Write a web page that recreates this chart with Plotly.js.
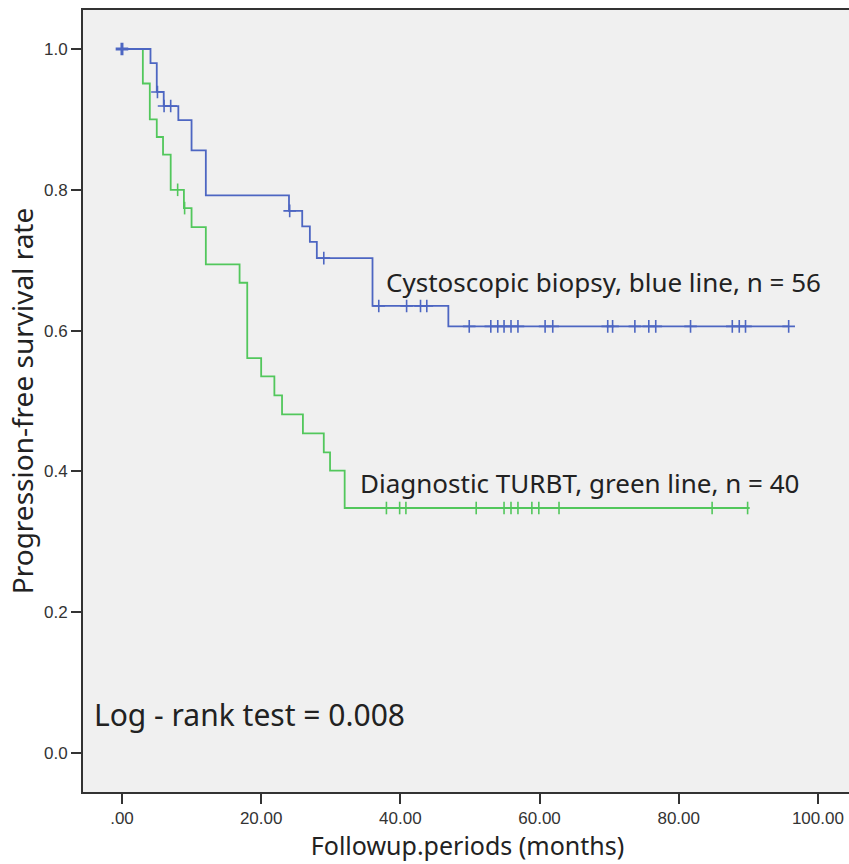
<!DOCTYPE html>
<html>
<head>
<meta charset="utf-8">
<script src="https://cdn.plot.ly/plotly-3.0.1.min.js"></script>
<style>html,body{margin:0;padding:0;overflow:hidden;background:#fff;}</style>
</head>
<body>
<div id="chart"></div>
<script>
// Cystoscopic biopsy (blue) – event times and survival after each step
const blueTimes = [0, 4.1, 5.0, 6.0, 8.1, 10.0, 12.05, 24.0, 25.9, 27.0, 28.0, 36.0, 46.9];
const blueSurv  = [1.0, 0.980, 0.939, 0.919, 0.899, 0.856, 0.792, 0.770, 0.748, 0.726, 0.703, 0.635, 0.606];
const blueEnd = 95.8;
const blueCensor = [0, 5.1, 6.05, 7.0, 24.1, 29.0, 36.9, 40.9, 42.9, 43.8, 49.9, 53.0, 54.0, 54.9, 55.9, 56.9,
                    60.8, 61.9, 69.8, 70.5, 73.7, 75.7, 76.7, 81.7, 87.7, 88.7, 89.6, 95.8];

// Diagnostic TURBT (green)
const greenTimes = [0, 3.0, 4.0, 5.0, 5.9, 7.0, 8.9, 10.0, 12.05, 16.9, 18.0, 20.0, 21.9, 23.0, 26.0, 29.0, 29.9, 32.0];
const greenSurv  = [1.0, 0.951, 0.900, 0.875, 0.850, 0.800, 0.774, 0.747, 0.694, 0.668, 0.561, 0.535, 0.508, 0.481, 0.454, 0.427, 0.401, 0.348];
const greenEnd = 90.2;
const greenCensor = [8.0, 9.0, 38.0, 39.9, 40.8, 50.9, 54.9, 55.9, 56.9, 58.9, 59.9, 62.8, 84.8, 89.9];

const xTickVals = [0, 20, 40, 60, 80, 100];
const xTickText = ['.00', '20.00', '40.00', '60.00', '80.00', '100.00'];
const yTickVals = [0, 0.2, 0.4, 0.6, 0.8, 1.0];
const yTickText = ['0.0', '0.2', '0.4', '0.6', '0.8', '1.0'];

const BLUE = '#4d66c2';
const GREEN = '#52c75c';
const TEXTFONT = 'Noto Sans, Open Sans, sans-serif';

function stepXY(times, surv, end) {
  return { x: times.concat([end]), y: surv.concat([surv[surv.length - 1]]) };
}
function survAt(times, surv, t) {
  let s = surv[0];
  for (let i = 0; i < times.length; i++) { if (times[i] <= t) s = surv[i]; }
  return s;
}

const bStep = stepXY(blueTimes, blueSurv, blueEnd);
const gStep = stepXY(greenTimes, greenSurv, greenEnd);

const traces = [
  { x: gStep.x, y: gStep.y, mode: 'lines', line: { shape: 'hv', color: GREEN, width: 1.8 }, hoverinfo: 'skip', showlegend: false },
  { x: greenCensor, y: greenCensor.map(t => survAt(greenTimes, greenSurv, t)), mode: 'markers',
    marker: { symbol: 'line-ns-open', size: 9, color: GREEN, line: { color: GREEN, width: 1.6 } }, hoverinfo: 'skip', showlegend: false },
  { x: bStep.x, y: bStep.y, mode: 'lines', line: { shape: 'hv', color: BLUE, width: 1.8 }, hoverinfo: 'skip', showlegend: false },
  { x: blueCensor, y: blueCensor.map(t => survAt(blueTimes, blueSurv, t)), mode: 'markers',
    marker: { symbol: 'cross-thin-open', size: 9, color: BLUE, line: { color: BLUE, width: blueCensor.map((t, i) => i === 0 ? 3 : 1.6) } },
    hoverinfo: 'skip', showlegend: false }
];

const layout = {
  width: 852, height: 864,
  margin: { l: 83, r: 0, t: 10, b: 72, pad: 0 },
  paper_bgcolor: '#ffffff',
  plot_bgcolor: '#f0f0f0',
  font: { family: 'Liberation Sans, Arial, sans-serif', color: '#333' },
  xaxis: {
    range: [-5.6, 104.9], tickvals: xTickVals, ticktext: xTickText,
    ticks: 'outside', ticklen: 10, tickwidth: 2, tickcolor: '#333',
    showline: true, mirror: true, linecolor: '#333', linewidth: 2,
    showgrid: false, zeroline: false,
    tickfont: { size: 17, color: '#333' },
    title: { text: 'Followup.periods (months)', font: { family: TEXTFONT, size: 25, color: '#222' }, standoff: 10 }
  },
  yaxis: {
    range: [-0.0554, 1.0554], tickvals: yTickVals, ticktext: yTickText,
    ticks: 'outside', ticklen: 10, tickwidth: 2, tickcolor: '#333',
    showline: true, mirror: true, linecolor: '#333', linewidth: 2,
    showgrid: false, zeroline: false,
    tickfont: { size: 17, color: '#333' },
    title: { text: 'Progression-free survival rate', font: { family: TEXTFONT, size: 28, color: '#222' }, standoff: 2 }
  },
  annotations: [
    { x: 37.6, y: 0.669, xref: 'x', yref: 'y', xanchor: 'left', yanchor: 'middle', showarrow: false,
      text: 'Cystoscopic biopsy, blue line, n = 56', font: { family: TEXTFONT, size: 26, color: '#222' } },
    { x: 33.9, y: 0.3835, xref: 'x', yref: 'y', xanchor: 'left', yanchor: 'middle', showarrow: false,
      text: 'Diagnostic TURBT, green line, n = 40', font: { family: TEXTFONT, size: 26, color: '#222' } },
    { x: -4.3, y: 0.054, xref: 'x', yref: 'y', xanchor: 'left', yanchor: 'middle', showarrow: false,
      text: 'Log - rank test = 0.008', font: { family: TEXTFONT, size: 30, color: '#222' } }
  ]
};

Plotly.newPlot('chart', traces, layout, { displayModeBar: false, staticPlot: true });
</script>
</body>
</html>
